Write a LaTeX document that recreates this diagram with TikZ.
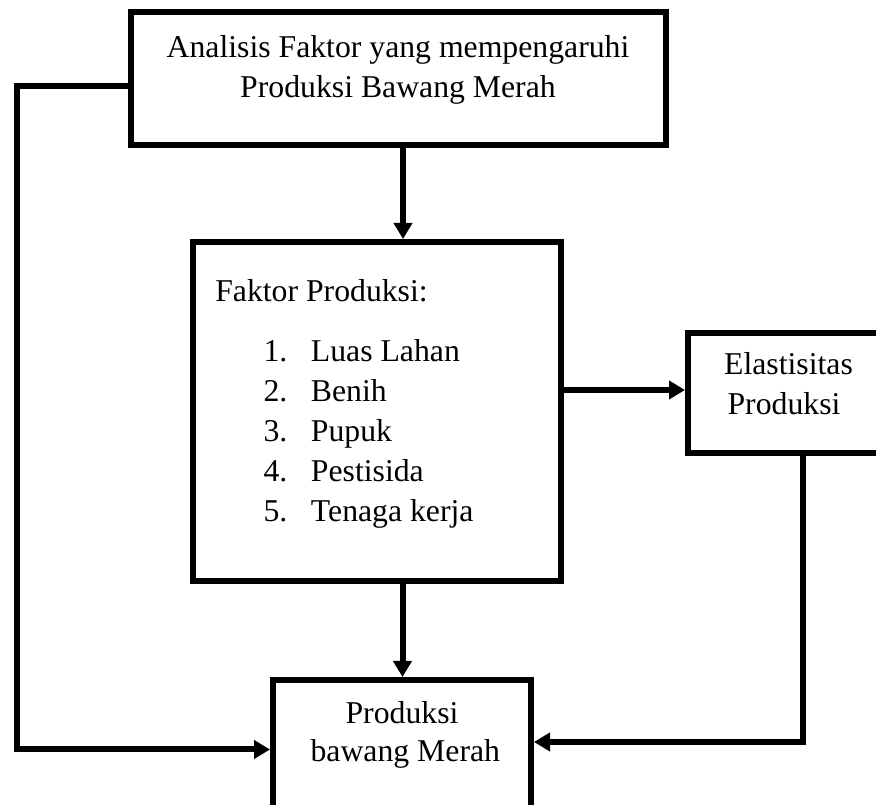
\documentclass[tikz,border=0pt]{standalone}
\usepackage{fontspec}
\setmainfont{Liberation Serif}
\usetikzlibrary{arrows.meta}
\newcommand\pxu{0.75pt}
\begin{document}
\begin{tikzpicture}[x=0.75pt,y=-0.75pt,
  box/.style={draw, line width=4.5pt, rectangle, inner sep=0pt},
  conn/.style={draw, line width=4.5pt, -{Triangle[width=13.5pt,length=12pt]}},
  txt/.style={inner sep=0pt, font=\fontsize{23.8pt}{28pt}\selectfont}]
\useasboundingbox (0,0) rectangle (876,805);
% boxes
\node[box, minimum width=535.5*\pxu, minimum height=133.5*\pxu] (top) at (398.25,78.75) {};
\node[box, minimum width=367.5*\pxu, minimum height=339*\pxu] (mid) at (376.75,411.5) {};
\node[box, minimum width=196*\pxu, minimum height=120*\pxu] (el) at (786,393.5) {};
\node[box, minimum width=258*\pxu, minimum height=134*\pxu] (bot) at (402,747) {};
% texts
\node[txt, anchor=base] (t1) at (398,57.5) {Analisis Faktor yang mempengaruhi};
\node[txt, anchor=base] (t2) at (398,97.5) {Produksi Bawang Merah};
\node[txt, anchor=base west] (m0) at (215,301.7) {Faktor Produksi:};
\node[txt, anchor=base west] (n1) at (263.3,361.7) {1.};
\node[txt, anchor=base west] (n2) at (263.3,401.7) {2.};
\node[txt, anchor=base west] (n3) at (263.3,441.7) {3.};
\node[txt, anchor=base west] (n4) at (263.3,481.7) {4.};
\node[txt, anchor=base west] (n5) at (263.3,521.7) {5.};
\node[txt, anchor=base west] (i1) at (310.7,361.7) {Luas Lahan};
\node[txt, anchor=base west] (i2) at (310.7,401.7) {Benih};
\node[txt, anchor=base west] (i3) at (310.7,441.7) {Pupuk};
\node[txt, anchor=base west] (i4) at (310.7,481.7) {Pestisida};
\node[txt, anchor=base west] (i5) at (310.7,521.7) {Tenaga kerja};
\node[txt, anchor=base] (e1) at (788.5,375) {Elastisitas};
\node[txt, anchor=base] (e2) at (784,415) {Produksi};
\node[txt, anchor=base] (b1) at (402,723.3) {Produksi};
\node[txt, anchor=base] (b2) at (405.3,761.7) {bawang Merah};
% helper coordinates
\coordinate (xa) at (403,0);
\coordinate (xb) at (402.5,0);
\coordinate (ly) at (0,86);
\coordinate (lc1) at (17,86);
\coordinate (lc2) at (17,749.5);
\coordinate (ey) at (0,390);
\coordinate (rc1) at (803,742);
\coordinate (xr) at (803,0);
% connectors
\draw[conn] (top.south -| xa) -- (mid.north -| xa);
\draw[conn] (top.west |- ly) -- (lc1) -- (lc2) -- (bot.west |- lc2);
\draw[conn] (mid.east |- ey) -- (el.west |- ey);
\draw[conn] (mid.south -| xb) -- (bot.north -| xb);
\draw[conn] (el.south -| xr) -- (rc1) -- (bot.east |- rc1);
\end{tikzpicture}
\end{document}
